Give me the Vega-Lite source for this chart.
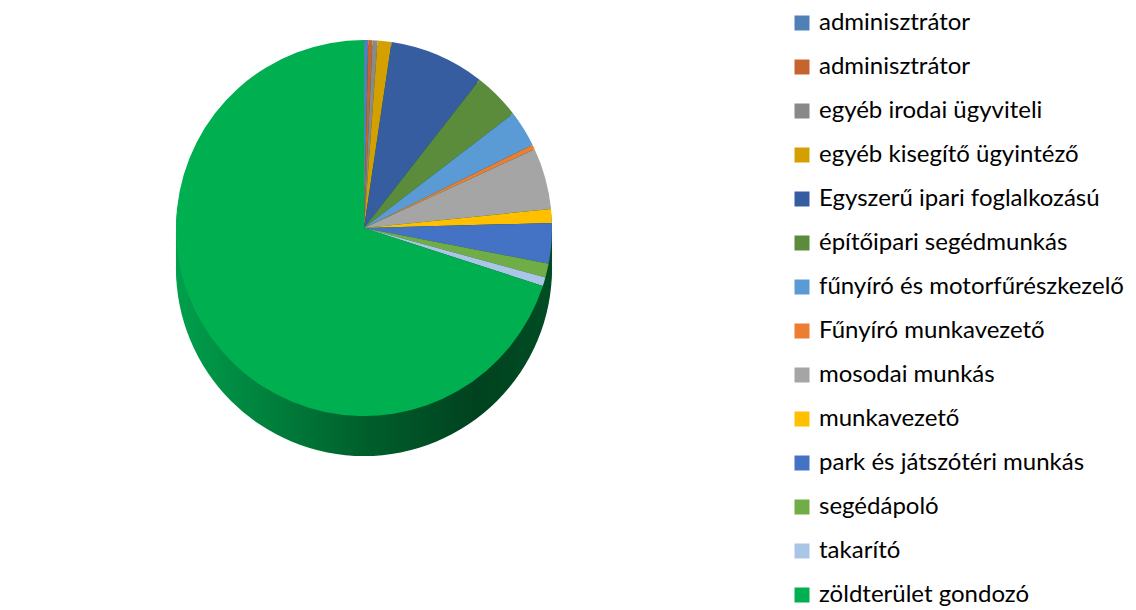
{
  "$schema": "https://vega.github.io/schema/vega-lite/v6.json",
  "width": 728,
  "height": 456,
  "autosize": "none",
  "padding": {"left": 0, "top": 0, "right": 408, "bottom": 154},
  "background": "white",
  "config": {"view": {"stroke": null}},
  "data": {
    "values": [
      {"ord": 1, "key": "01|adminisztrátor", "n": 1},
      {"ord": 2, "key": "02|adminisztrátor", "n": 1},
      {"ord": 3, "key": "03|egyéb irodai ügyviteli", "n": 1.2},
      {"ord": 4, "key": "04|egyéb kisegítő ügyintéző", "n": 3.3},
      {"ord": 5, "key": "05|Egyszerű ipari foglalkozású", "n": 22.7},
      {"ord": 6, "key": "06|építőipari segédmunkás", "n": 11.2},
      {"ord": 7, "key": "07|fűnyíró és motorfűrészkezelő", "n": 8.7},
      {"ord": 8, "key": "08|Fűnyíró munkavezető", "n": 1.1},
      {"ord": 9, "key": "09|mosodai munkás", "n": 14.6},
      {"ord": 10, "key": "10|munkavezető", "n": 3.3},
      {"ord": 11, "key": "11|park és játszótéri munkás", "n": 9.6},
      {"ord": 12, "key": "12|segédápoló", "n": 3.3},
      {"ord": 13, "key": "13|takarító", "n": 2.1},
      {"ord": 14, "key": "14|zöldterület gondozó", "n": 194}
    ]
  },
  "layer": [
    {"mark": {"type": "arc", "radius": 188, "yOffset": 40, "fill": {"gradient": "linear", "x1": 0, "y1": 0, "x2": 1, "y2": 0, "stops": [{"offset": 0, "color": "#00a04c"}, {"offset": 0.5, "color": "#005f2c"}, {"offset": 0.8, "color": "#00421f"}, {"offset": 1, "color": "#004d24"}]}},
     "encoding": {"theta": {"aggregate": "sum", "field": "n", "type": "quantitative"}}},
    {"mark": {"type": "arc", "radius": 188, "yOffset": 34, "fill": {"gradient": "linear", "x1": 0, "y1": 0, "x2": 1, "y2": 0, "stops": [{"offset": 0, "color": "#00a04c"}, {"offset": 0.5, "color": "#005f2c"}, {"offset": 0.8, "color": "#00421f"}, {"offset": 1, "color": "#004d24"}]}},
     "encoding": {"theta": {"aggregate": "sum", "field": "n", "type": "quantitative"}}},
    {"mark": {"type": "arc", "radius": 188, "yOffset": 28, "fill": {"gradient": "linear", "x1": 0, "y1": 0, "x2": 1, "y2": 0, "stops": [{"offset": 0, "color": "#00a04c"}, {"offset": 0.5, "color": "#005f2c"}, {"offset": 0.8, "color": "#00421f"}, {"offset": 1, "color": "#004d24"}]}},
     "encoding": {"theta": {"aggregate": "sum", "field": "n", "type": "quantitative"}}},
    {"mark": {"type": "arc", "radius": 188, "yOffset": 22, "fill": {"gradient": "linear", "x1": 0, "y1": 0, "x2": 1, "y2": 0, "stops": [{"offset": 0, "color": "#00a04c"}, {"offset": 0.5, "color": "#005f2c"}, {"offset": 0.8, "color": "#00421f"}, {"offset": 1, "color": "#004d24"}]}},
     "encoding": {"theta": {"aggregate": "sum", "field": "n", "type": "quantitative"}}},
    {"mark": {"type": "arc", "radius": 188, "yOffset": 16, "fill": {"gradient": "linear", "x1": 0, "y1": 0, "x2": 1, "y2": 0, "stops": [{"offset": 0, "color": "#00a04c"}, {"offset": 0.5, "color": "#005f2c"}, {"offset": 0.8, "color": "#00421f"}, {"offset": 1, "color": "#004d24"}]}},
     "encoding": {"theta": {"aggregate": "sum", "field": "n", "type": "quantitative"}}},
    {"mark": {"type": "arc", "radius": 188, "yOffset": 10, "fill": {"gradient": "linear", "x1": 0, "y1": 0, "x2": 1, "y2": 0, "stops": [{"offset": 0, "color": "#00a04c"}, {"offset": 0.5, "color": "#005f2c"}, {"offset": 0.8, "color": "#00421f"}, {"offset": 1, "color": "#004d24"}]}},
     "encoding": {"theta": {"aggregate": "sum", "field": "n", "type": "quantitative"}}},
    {"mark": {"type": "arc", "radius": 188, "yOffset": 5, "fill": {"gradient": "linear", "x1": 0, "y1": 0, "x2": 1, "y2": 0, "stops": [{"offset": 0, "color": "#00a04c"}, {"offset": 0.5, "color": "#005f2c"}, {"offset": 0.8, "color": "#00421f"}, {"offset": 1, "color": "#004d24"}]}},
     "encoding": {"theta": {"aggregate": "sum", "field": "n", "type": "quantitative"}}},
    {
      "mark": {"type": "arc", "radius": 188},
      "encoding": {
        "theta": {"field": "n", "type": "quantitative", "stack": true},
        "order": {"field": "ord", "type": "quantitative", "sort": "ascending"},
        "color": {
          "field": "key",
          "type": "nominal",
          "scale": {
            "domain": ["01|adminisztrátor", "02|adminisztrátor", "03|egyéb irodai ügyviteli", "04|egyéb kisegítő ügyintéző", "05|Egyszerű ipari foglalkozású", "06|építőipari segédmunkás", "07|fűnyíró és motorfűrészkezelő", "08|Fűnyíró munkavezető", "09|mosodai munkás", "10|munkavezető", "11|park és játszótéri munkás", "12|segédápoló", "13|takarító", "14|zöldterület gondozó"],
            "range": ["#4f81b8", "#c5642c", "#898989", "#d4a000", "#365da0", "#5b8c3b", "#5b9bd5", "#ed7d31", "#a5a5a5", "#ffc000", "#4472c4", "#70ad47", "#abc5e6", "#00b050"]
          },
          "legend": {
            "title": null,
            "orient": "none",
            "legendX": 790,
            "legendY": 11,
            "padding": 0,
            "symbolType": "square",
            "symbolSize": 225,
            "symbolStrokeWidth": 0,
            "symbolOpacity": 1,
            "labelFont": "Lato",
            "labelFontSize": 24,
            "labelColor": "#000000",
            "labelOffset": 5,
            "rowPadding": 20,
            "labelLimit": 400,
            "labelExpr": "split(datum.label, '|')[1]"
          }
        }
      }
    }
  ]
}
